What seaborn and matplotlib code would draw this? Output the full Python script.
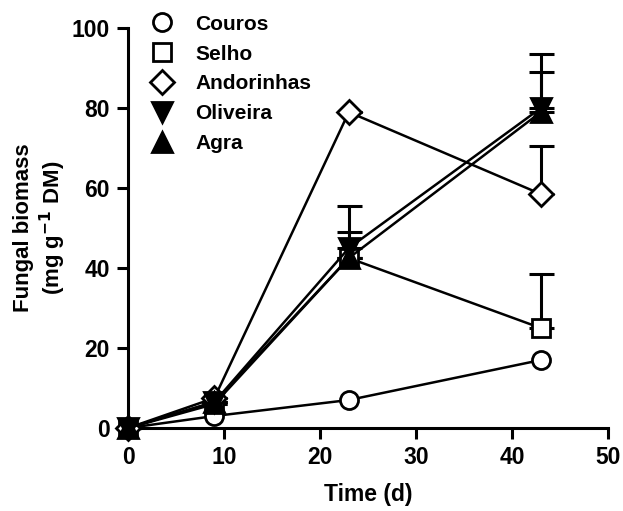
import numpy as np
import pandas as pd
import matplotlib
matplotlib.use("Agg")
import matplotlib.pyplot as plt
import seaborn as sns

# data
time_d = [0, 9, 23, 43]
couros = [0, 3, 7, 17]
selho = [0, 6, 42.5, 25]
andorinhas = [0, 7.5, 79, 58.5]
oliveira = [0, 6.5, 45, 80]
agra = [0, 6.5, 42.5, 79]

# upper error bar lengths (only positive side drawn)
err_selho = [0, 0, 0, 13.5]
err_andorinhas = [0, 0, 0, 12]
err_oliveira = [0, 0, 4, 9]
err_agra = [0, 0, 13, 14.5]

series = [
    ("Couros", couros, "o", "white", None, 13),
    ("Selho", selho, "s", "white", err_selho, 13),
    ("Andorinhas", andorinhas, "D", "white", err_andorinhas, 12),
    ("Oliveira", oliveira, "v", "black", err_oliveira, 15),
    ("Agra", agra, "^", "black", err_agra, 15),
]

sns.set_style("ticks")
plt.rcParams["font.family"] = ["Liberation Sans", "DejaVu Sans"]
plt.rcParams["font.weight"] = "bold"
for key in ["text.color", "axes.labelcolor", "xtick.color", "ytick.color",
            "axes.edgecolor"]:
    plt.rcParams[key] = "black"

fig = plt.figure(figsize=(6.23, 5.11), dpi=100)
ax = fig.add_axes([0.2055, 0.1624, 0.7705, 0.7826])

for name, vals, mk, fc, err, ms in series:
    df = pd.DataFrame({"time": time_d, "biomass": vals})
    if err is not None:
        ax.errorbar(df["time"], df["biomass"], yerr=[np.zeros(len(err)), err],
                    fmt="none", ecolor="black", elinewidth=2.2, capsize=9,
                    capthick=2.2, clip_on=False, zorder=2)
    sns.lineplot(data=df, x="time", y="biomass", ax=ax, color="black",
                 linewidth=1.8, marker=mk, markersize=ms,
                 markerfacecolor=fc, markeredgecolor="black",
                 markeredgewidth=2, clip_on=False, zorder=3, label=name)

ax.set_xlim(0, 50)
ax.set_ylim(0, 100)
ax.set_xticks([0, 10, 20, 30, 40, 50])
ax.set_yticks([0, 20, 40, 60, 80, 100])
for side in ["top", "right"]:
    ax.spines[side].set_visible(False)
for side in ["left", "bottom"]:
    ax.spines[side].set_linewidth(2.2)
ax.tick_params(width=2.2, length=8, labelsize=16.5, direction="out", pad=5)
for lbl in ax.get_xticklabels() + ax.get_yticklabels():
    lbl.set_fontweight("bold")

ax.set_xlabel("Time (d)", fontsize=16.5, fontweight="bold", labelpad=10)
ax.set_ylabel("Fungal biomass\n(mg g$^{\\mathbf{-1}}$ DM)", fontsize=16,
              fontweight="bold", labelpad=3, linespacing=1.15)

h, l = ax.get_legend_handles_labels()
leg = ax.legend(h, l, loc="upper left", bbox_to_anchor=(0.04, 1.07),
                frameon=False, fontsize=15, labelspacing=0.52,
                handlelength=0, handletextpad=1.6, borderaxespad=0.3)
for t in leg.get_texts():
    t.set_fontweight("bold")

fig.savefig("out.png", dpi=100)
